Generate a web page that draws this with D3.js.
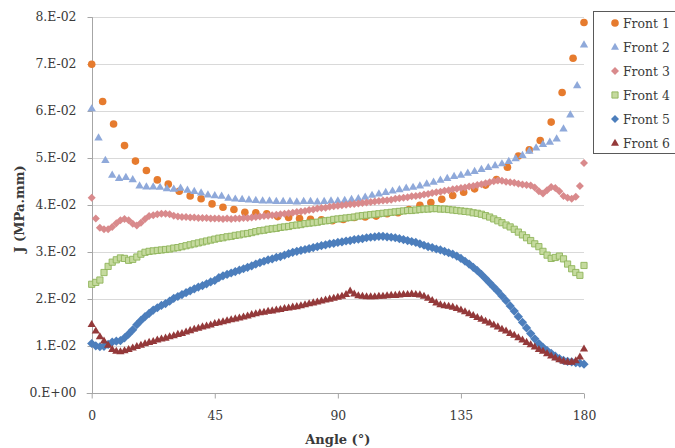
<!DOCTYPE html>
<html>
<head>
<meta charset="utf-8">
<script src="https://cdn.jsdelivr.net/npm/d3@7"></script>
<style>
  html, body { margin: 0; padding: 0; background: #fff; }
  svg { display: block; }
  text { font-family: "DejaVu Serif", "Liberation Serif", serif; fill: #3a3a3a; }
</style>
</head>
<body>
<svg id="chart" width="675" height="448"></svg>
<script>
// ---------------- DATA ----------------
const seriesNames = ["Front 1", "Front 2", "Front 3", "Front 4", "Front 5", "Front 6"];
const xTicks = [0, 45, 90, 135, 180];
const yTicks = [0, 0.01, 0.02, 0.03, 0.04, 0.05, 0.06, 0.07, 0.08];
const yTickLabels = ["0.E+00", "1.E-02", "2.E-02", "3.E-02", "4.E-02", "5.E-02", "6.E-02", "7.E-02", "8.E-02"];

// angular sampling step (degrees) of each series, starting at 0
const angleStep1 = 4;
const angleStep2 = 2.5;
const angleStep3 = 1.5;
const angleStep4 = 1.5;
const angleStep5 = 1.5;
const angleStep6 = 1.5;

const front1 = [0.0700,0.0621,0.0573,0.0527,0.0494,0.0474,0.0454,0.0445,0.0430,0.0420,
  0.0414,0.0403,0.0396,0.0391,0.0385,0.0384,0.0382,0.0376,0.0374,0.0372,
  0.0370,0.0369,0.0367,0.0370,0.0374,0.0375,0.0377,0.0382,0.0384,0.0391,
  0.0400,0.0406,0.0413,0.0421,0.0428,0.0435,0.0443,0.0455,0.0481,0.0505,
  0.0518,0.0538,0.0577,0.0640,0.0713,0.0789];

const front2 = [0.0606,0.0544,0.0496,0.0465,0.0458,0.0460,0.0455,0.0442,0.0440,0.0440,
  0.0439,0.0436,0.0435,0.0437,0.0433,0.0430,0.0427,0.0423,0.0421,0.0420,
  0.0416,0.0414,0.0413,0.0412,0.0411,0.0410,0.0410,0.0409,0.0409,0.0409,
  0.0408,0.0409,0.0409,0.0408,0.0409,0.0410,0.0410,0.0411,0.0413,0.0415,
  0.0418,0.0422,0.0425,0.0428,0.0431,0.0434,0.0437,0.0439,0.0442,0.0446,
  0.0450,0.0454,0.0458,0.0462,0.0465,0.0469,0.0473,0.0477,0.0481,0.0485,
  0.0489,0.0494,0.0500,0.0507,0.0516,0.0523,0.0530,0.0535,0.0542,0.0563,
  0.0593,0.0655,0.0742];

const front3 = [0.0416,0.0372,0.0352,0.0349,0.0349,0.0354,0.0362,0.0368,0.0371,0.0368,
  0.0361,0.0357,0.0363,0.0371,0.0377,0.0379,0.0381,0.0382,0.0382,0.0381,
  0.0378,0.0376,0.0375,0.0375,0.0374,0.0374,0.0373,0.0373,0.0373,0.0372,
  0.0372,0.0372,0.0371,0.0372,0.0371,0.0372,0.0372,0.0373,0.0373,0.0374,
  0.0375,0.0376,0.0377,0.0378,0.0379,0.0380,0.0381,0.0382,0.0383,0.0384,
  0.0386,0.0387,0.0388,0.0390,0.0391,0.0393,0.0394,0.0395,0.0397,0.0398,
  0.0399,0.0400,0.0401,0.0402,0.0403,0.0404,0.0405,0.0406,0.0407,0.0408,
  0.0409,0.0410,0.0411,0.0412,0.0414,0.0415,0.0416,0.0417,0.0419,0.0420,
  0.0421,0.0423,0.0424,0.0426,0.0428,0.0429,0.0431,0.0432,0.0434,0.0435,
  0.0437,0.0438,0.0440,0.0441,0.0443,0.0445,0.0447,0.0449,0.0451,0.0453,
  0.0452,0.0450,0.0449,0.0448,0.0446,0.0444,0.0443,0.0442,0.0438,0.0430,
  0.0425,0.0432,0.0439,0.0437,0.0430,0.0420,0.0416,0.0414,0.0418,0.0441,
  0.0490];

const front4 = [0.0232,0.0236,0.0241,0.0257,0.0270,0.0279,0.0284,0.0288,0.0287,0.0283,
  0.0285,0.0290,0.0296,0.0300,0.0302,0.0303,0.0304,0.0305,0.0306,0.0307,
  0.0309,0.0310,0.0312,0.0314,0.0316,0.0318,0.0320,0.0322,0.0324,0.0326,
  0.0328,0.0330,0.0331,0.0333,0.0334,0.0336,0.0337,0.0339,0.0340,0.0342,
  0.0344,0.0346,0.0347,0.0349,0.0350,0.0351,0.0353,0.0354,0.0355,0.0357,
  0.0358,0.0359,0.0361,0.0362,0.0363,0.0364,0.0366,0.0367,0.0368,0.0370,
  0.0371,0.0372,0.0373,0.0374,0.0375,0.0377,0.0378,0.0379,0.0380,0.0381,
  0.0382,0.0383,0.0384,0.0385,0.0386,0.0387,0.0388,0.0389,0.0389,0.0390,
  0.0391,0.0392,0.0392,0.0393,0.0393,0.0392,0.0392,0.0391,0.0390,0.0389,
  0.0388,0.0387,0.0386,0.0384,0.0383,0.0381,0.0378,0.0375,0.0371,0.0367,
  0.0363,0.0358,0.0354,0.0349,0.0343,0.0337,0.0331,0.0325,0.0318,0.0312,
  0.0302,0.0294,0.0287,0.0289,0.0292,0.0286,0.0275,0.0265,0.0257,0.0251,
  0.0272];

const front5 = [0.0106,0.0101,0.0099,0.0100,0.0104,0.0109,0.0111,0.0112,0.0118,0.0126,
  0.0135,0.0146,0.0155,0.0163,0.0170,0.0177,0.0182,0.0187,0.0191,0.0196,
  0.0202,0.0206,0.0210,0.0214,0.0218,0.0222,0.0226,0.0229,0.0233,0.0237,
  0.0240,0.0246,0.0250,0.0253,0.0256,0.0259,0.0262,0.0265,0.0268,0.0271,
  0.0275,0.0278,0.0281,0.0284,0.0286,0.0289,0.0291,0.0294,0.0297,0.0300,
  0.0302,0.0304,0.0306,0.0308,0.0310,0.0312,0.0314,0.0316,0.0318,0.0319,
  0.0321,0.0322,0.0324,0.0325,0.0327,0.0328,0.0329,0.0331,0.0332,0.0333,
  0.0334,0.0334,0.0333,0.0332,0.0331,0.0329,0.0327,0.0325,0.0323,0.0321,
  0.0318,0.0315,0.0312,0.0310,0.0307,0.0305,0.0302,0.0299,0.0296,0.0292,
  0.0287,0.0281,0.0275,0.0268,0.0261,0.0253,0.0244,0.0235,0.0226,0.0217,
  0.0207,0.0197,0.0186,0.0175,0.0163,0.0151,0.0139,0.0127,0.0116,0.0106,
  0.0098,0.0091,0.0085,0.0079,0.0074,0.0070,0.0068,0.0067,0.0065,0.0064,
  0.0062];

const front6 = [0.0147,0.0133,0.0121,0.0112,0.0103,0.0094,0.0090,0.0089,0.0091,0.0094,
  0.0097,0.0100,0.0103,0.0106,0.0109,0.0111,0.0114,0.0116,0.0118,0.0121,
  0.0123,0.0126,0.0128,0.0131,0.0134,0.0137,0.0139,0.0142,0.0144,0.0146,
  0.0149,0.0151,0.0153,0.0155,0.0157,0.0159,0.0161,0.0163,0.0165,0.0168,
  0.0170,0.0172,0.0173,0.0175,0.0176,0.0178,0.0179,0.0181,0.0182,0.0184,
  0.0185,0.0187,0.0189,0.0191,0.0193,0.0195,0.0197,0.0199,0.0201,0.0203,
  0.0205,0.0207,0.0211,0.0218,0.0212,0.0208,0.0207,0.0206,0.0206,0.0206,
  0.0207,0.0207,0.0208,0.0209,0.0209,0.0210,0.0211,0.0211,0.0212,0.0211,
  0.0210,0.0207,0.0203,0.0198,0.0193,0.0189,0.0187,0.0186,0.0184,0.0181,
  0.0178,0.0174,0.0170,0.0166,0.0162,0.0158,0.0154,0.0150,0.0146,0.0142,
  0.0137,0.0133,0.0128,0.0124,0.0119,0.0114,0.0109,0.0104,0.0099,0.0094,
  0.0090,0.0085,0.0080,0.0076,0.0072,0.0069,0.0067,0.0067,0.0070,0.0078,
  0.0095];

// ---------------- STYLE ----------------
const styles = [
  { shape: "circle",   fill: "#E67B2E", stroke: "none",    size: 7.6 },
  { shape: "triangle", fill: "#8FA9DA", stroke: "none",    size: 8.4 },
  { shape: "diamond",  fill: "#D98A8C", stroke: "none",    size: 8.0 },
  { shape: "square",   fill: "#C5DA9E", stroke: "#8FB45A", size: 6.2 },
  { shape: "diamond",  fill: "#4C7EBC", stroke: "none",    size: 9.2 },
  { shape: "triangle", fill: "#94393A", stroke: "none",    size: 8.2 }
];

const seriesValues = [front1, front2, front3, front4, front5, front6];
const seriesSteps = [angleStep1, angleStep2, angleStep3, angleStep4, angleStep5, angleStep6];

// ---------------- CHART ----------------
const svg = d3.select("#chart");
const x = d3.scaleLinear().domain([0, 180]).range([91.7, 584]);
const y = d3.scaleLinear().domain([0, 0.08]).range([393.3, 17.3]);

function markerPath(shape, s) {
  const h = s / 2;
  if (shape === "circle") {
    return d3.symbol().type(d3.symbolCircle).size(Math.PI * h * h)();
  }
  if (shape === "square") {
    return `M${-h},${-h}H${h}V${h}H${-h}Z`;
  }
  if (shape === "diamond") {
    return `M0,${-h}L${h},0L0,${h}L${-h},0Z`;
  }
  // triangle pointing up
  const ht = s * 0.86;
  return `M0,${-ht * 0.6}L${h},${ht * 0.4}L${-h},${ht * 0.4}Z`;
}

// gridlines
svg.append("g")
  .selectAll("line")
  .data(yTicks.slice(1))
  .join("line")
  .attr("x1", x(0)).attr("x2", x(180))
  .attr("y1", d => Math.round(y(d)) + 0.5).attr("y2", d => Math.round(y(d)) + 0.5)
  .attr("stroke", "#d9d9d9").attr("stroke-width", 1);

// Y axis
const yAxis = d3.axisLeft(y).tickValues(yTicks).tickSize(5)
  .tickFormat((d, i) => yTickLabels[i]);
const gy = svg.append("g").attr("transform", `translate(${Math.round(x(0)) + 0.5},0)`).call(yAxis);
gy.select(".domain").attr("stroke", "#a6a6a6");
gy.selectAll(".tick line").attr("stroke", "#a6a6a6");
gy.selectAll(".tick text")
  .attr("x", -16)
  .style("font-family", "DejaVu Serif")
  .style("font-size", "12.4px")
  .style("fill", "#3a3a3a");
gy.selectAll(".tick").attr("transform", d => `translate(0,${Math.round(y(d)) + 0.5})`);
gy.select(".domain").attr("d", `M0,${y(0.08)}V${y(0)}`);

// X axis
const xAxis = d3.axisBottom(x).tickValues(xTicks).tickSize(5).tickFormat(d3.format("d"));
const gx = svg.append("g").attr("transform", `translate(0,${Math.round(y(0)) + 0.5})`).call(xAxis);
gx.select(".domain").attr("stroke", "#a6a6a6").attr("d", `M${x(0) - 5},0H${x(180)}`);
gx.selectAll(".tick line").attr("stroke", "#a6a6a6");
gx.selectAll(".tick text")
  .attr("y", 18)
  .style("font-family", "DejaVu Serif")
  .style("font-size", "12.4px")
  .style("fill", "#3a3a3a");

// axis titles
svg.append("text")
  .attr("x", x(90)).attr("y", 444)
  .attr("text-anchor", "middle")
  .style("font-size", "13px").style("font-weight", "bold")
  .text("Angle (°)");

svg.append("text")
  .attr("transform", "translate(24,209) rotate(-90)")
  .attr("text-anchor", "middle")
  .style("font-size", "13px").style("font-weight", "bold")
  .text("J (MPa.mm)");

// series
seriesValues.forEach((vals, si) => {
  const st = styles[si];
  const step = seriesSteps[si];
  svg.append("g")
    .attr("class", "series-" + (si + 1))
    .selectAll("path")
    .data(vals)
    .join("path")
    .attr("transform", (d, i) => `translate(${x(i * step)},${y(d)})`)
    .attr("d", markerPath(st.shape, st.size))
    .attr("fill", st.fill)
    .attr("stroke", st.stroke)
    .attr("stroke-width", st.stroke === "none" ? 0 : 0.9);
});

// legend
const lg = svg.append("g");
lg.append("rect")
  .attr("x", 593.5).attr("y", 11.5).attr("width", 95).attr("height", 142)
  .attr("fill", "#fff").attr("stroke", "#595959").attr("stroke-width", 1);
seriesNames.forEach((name, i) => {
  const yy = 23 + i * 24;
  const st = styles[i];
  lg.append("path")
    .attr("transform", `translate(615,${yy})`)
    .attr("d", markerPath(st.shape, Math.min(st.size, 8)))
    .attr("fill", st.fill)
    .attr("stroke", st.stroke)
    .attr("stroke-width", st.stroke === "none" ? 0 : 0.9);
  lg.append("text")
    .attr("x", 623).attr("y", yy + 4.5)
    .style("font-size", "12.4px")
    .text(name);
});
</script>
</body>
</html>
